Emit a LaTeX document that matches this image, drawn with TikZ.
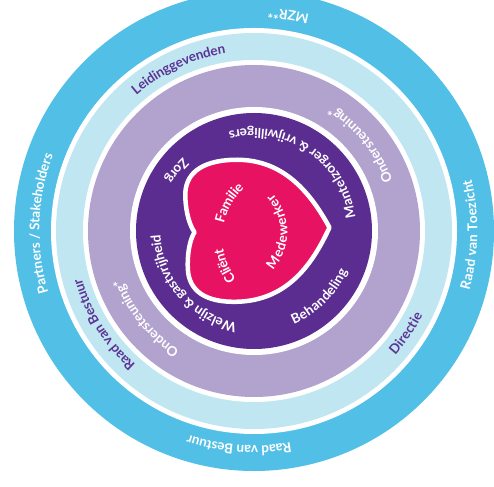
\documentclass[tikz,border=0pt]{standalone}
\usepackage{fontspec}
\setmainfont{Lato}
\usetikzlibrary{decorations.text}

\definecolor{ringblue}{RGB}{82,192,230}
\definecolor{ringlight}{RGB}{192,230,242}
\definecolor{ringlilac}{RGB}{178,162,206}
\definecolor{ringpurple}{RGB}{92,45,145}
\definecolor{heartpink}{RGB}{232,18,98}
\definecolor{labelpurple}{RGB}{92,52,150}

\newcommand{\labelfont}{\fontsize{13.5}{15}\selectfont\bfseries}
% text on an arc: #1 radius, #2 middle angle, #3 half sweep (> 0 counterclockwise, < 0 clockwise), #4 colour, #5 text
\newcommand{\arclabel}[5]{%
  \path[decorate,decoration={text along path,text align=center,raise=-4.4pt,
      text={|\labelfont\color{#4}|#5}}]
    ({#2-(#3)}:#1) arc[start angle={#2-(#3)},delta angle={2*(#3)},radius=#1];}

\begin{document}
\begin{tikzpicture}[x=1pt,y=1pt]
	\clip (-254,-255) rectangle (240,231);
	\fill[white] (-254,-255) rectangle (240,231);
	% rings, from the outside in, with thin white gaps
	\foreach \r/\c in {240/ringblue, 203/white, 198/ringlight, 171/white,
		166/ringlilac, 124/white, 118/ringpurple} {
		\fill[\c] (0,0) circle (\r);
	}
	% heart, tip pointing right
	\begin{scope}[shift={(3.5,1)},rotate=2]
		\filldraw[fill=heartpink,draw=white,line width=4.5pt,line join=round]
		(72,0) .. controls (52,40) and (25,71) .. (-22,71)
		.. controls (-55,71) and (-71,58) .. (-71,36)
		.. controls (-71,18) and (-67,6) .. (-63,0)
		.. controls (-67,-6) and (-71,-18) .. (-71,-36)
		.. controls (-71,-58) and (-55,-71) .. (-22,-71)
		.. controls (25,-71) and (52,-40) .. cycle;
	\end{scope}
	% outer ring
	\arclabel{219}{81}{60}{white}{MZR**}
	\arclabel{219}{-1}{60}{white}{Raad van Toezicht}
	\arclabel{219}{-94}{-60}{white}{Raad van Bestuur}
	\arclabel{219}{178}{-60}{white}{Partners / Stakeholders}
	% light blue ring
	\arclabel{184}{115}{-60}{labelpurple}{Leidinggevenden}
	\arclabel{183}{212}{-60}{labelpurple}{Raad van Bestuur}
	\arclabel{184}{-34}{60}{labelpurple}{Directie}
	% lilac ring
	\arclabel{143}{39}{60}{white}{Ondersteuning*}
	\arclabel{145}{219}{-60}{white}{Ondersteuning*}
	% purple disc
	\arclabel{98}{56}{80}{white}{Mantelzorger {\&} vrijwilligers}
	\arclabel{98}{142}{40}{white}{Zorg}
	\arclabel{98}{221}{-70}{white}{Welzijn {\&} gastvrijheid}
	\arclabel{97}{-45}{50}{white}{Behandeling}
	% inside the heart
	\begin{scope}[shift={(36,-7)}]
		\arclabel{72}{203}{-30}{white}{Cliënt}
		\arclabel{72}{150}{-35}{white}{Familie}
	\end{scope}
	\begin{scope}[shift={(-23,-1)}]
		\arclabel{52}{0}{60}{white}{Medewerker}
	\end{scope}
\end{tikzpicture}
\end{document}
